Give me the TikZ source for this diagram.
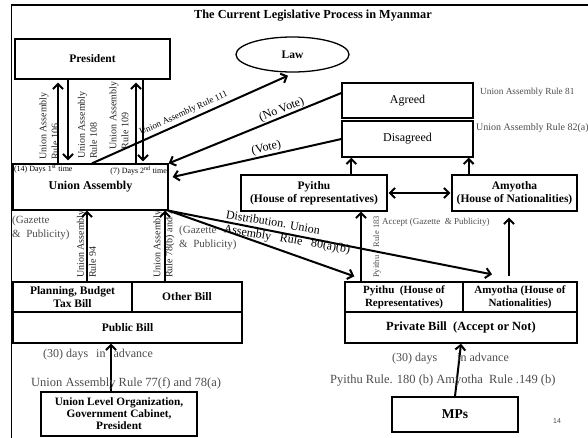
\documentclass[tikz,border=0pt]{standalone}
\usepackage{fontspec}
\setmainfont{Liberation Serif}
\newfontfamily\slidesans{Liberation Sans}
\usetikzlibrary{arrows.meta,shapes.geometric}
\begin{document}
\begin{tikzpicture}[x=1pt,y=-1pt,>={Straight Barb[length=5pt,width=10pt]},
	box/.style={draw,line width=1.3pt,inner sep=1pt,align=center,font=\bfseries\fontsize{11.5}{13.5}\selectfont},
	arr/.style={->,line width=2pt},
	lbl/.style={inner sep=0pt,font=\fontsize{12}{14}\selectfont,text=black!70},
	rlbl/.style={inner sep=0pt,rotate=90,align=left,font=\fontsize{10}{12}\selectfont,text=black!85}]
	\useasboundingbox (0,0) rectangle (588,437);
	\draw[line width=1.5pt] (590,5) -- (11.5,5) -- (11.5,440);
	\node[font=\bfseries\fontsize{12.3}{14}\selectfont] (title) at (313,16) {The Current Legislative Process in Myanmar};
	\node[box,minimum width=155,minimum height=40] (pres) at (92.5,59) {President};
	\node[box,ellipse,minimum width=113,minimum height=35] (law) at (292.5,54.5) {Law};
	\node[box,font=\fontsize{12}{14}\selectfont,minimum width=131,minimum height=35] (agreed) at (407.5,100.5) {Agreed};
	\node[box,font=\fontsize{12}{14}\selectfont,minimum width=131,minimum height=36] (disagreed) at (407.5,139) {Disagreed};
	\node[rlbl] (r106) at (49,126) {Union Assembly\\Rule 106};
	\node[rlbl] (r108) at (87.5,125) {Union Assembly\\Rule 108};
	\node[rlbl] (r109) at (119,115.5) {Union Assembly\\Rule 109};
	\node[rlbl] (r94) at (86.5,244) {Union Assembly\\Rule 94};
	\node[rlbl] (r78) at (164,244) {Union Assembly\\Rule 78(b) and 7};
	\node[box,font=\bfseries\fontsize{12}{14}\selectfont,minimum width=155,minimum height=46] (ua) at (90.5,187) {Union Assembly};
	\node[box,minimum width=146,minimum height=36] (pyHouse) at (314,193) {Pyithu\\(House of representatives)};
	\node[box,minimum width=125,minimum height=36] (amHouse) at (514.5,193) {Amyotha\\(House of Nationalities)};
	\node[box,minimum width=119,minimum height=30] (planning) at (72.5,297) {Planning, Budget\\Tax Bill};
	\node[box,minimum width=110,minimum height=30] (other) at (187,297) {Other Bill};
	\node[box,minimum width=229,minimum height=31] (public) at (127.5,327.5) {Public Bill};
	\node[box,font=\bfseries\fontsize{11.3}{12}\selectfont,minimum width=156,minimum height=44] (ulo) at (119,414) {Union Level Organization,\\Government Cabinet,\\President};
	\node[box,font=\bfseries\fontsize{11}{13}\selectfont,minimum width=118,minimum height=30] (pyPriv) at (404,297) {Pyithu\ \ (House of\\Representatives)};
	\node[box,font=\bfseries\fontsize{11}{13}\selectfont,minimum width=114,minimum height=30] (amPriv) at (520,297) {Amyotha (House of\\Nationalities)};
	\node[box,font=\bfseries\fontsize{12.5}{14}\selectfont,minimum width=232,minimum height=31] (private) at (461,327.5) {Private Bill\ \ (Accept or Not)};
	\node[box,font=\bfseries\fontsize{13.5}{15}\selectfont,minimum width=126,minimum height=35] (mps) at (455,414.5) {MPs};
	\draw[arr,shorten >=3pt] ([xshift=-34.5pt]pres.south |- ua.north) -- ([xshift=-34.5pt]pres.south);
	\draw[arr,shorten >=3pt] ([xshift=-24.5pt]pres.south) -- ([xshift=-24.5pt]pres.south |- ua.north);
	\draw[arr,shorten >=3pt] ([xshift=43.5pt]pres.south |- ua.north) -- ([xshift=43.5pt]pres.south);
	\draw[arr,shorten >=2pt] ([xshift=50.5pt]pres.south) -- ([xshift=50.5pt]pres.south |- ua.north);
	\draw[arr] ([xshift=1.5pt]ua.north) -- node[pos=0.485,sloped,above=3pt,inner sep=0pt,font=\fontsize{9}{10}\selectfont] (r111) {Union Assembly Rule 111} ([xshift=-4.5pt,yshift=-3pt]law.south);
	\draw[arr,<-] (ua.north east) -- node[pos=0.67,sloped,above=0.5pt,inner sep=0pt,font=\fontsize{12}{14}\selectfont] (noVote) {(No Vote)} ([yshift=7.5pt]agreed.west);
	\draw[arr,<-] ([xshift=4pt,yshift=10pt]ua.east) -- node[pos=0.565,sloped,above=1pt,inner sep=0pt,font=\fontsize{12}{14}\selectfont] (vote) {(Vote)} (disagreed.west);
	\draw[arr] (ua.south east) -- ([xshift=10pt,yshift=5pt]pyPriv.north west);
	\draw[arr] (ua.south east) -- ([xshift=-28pt,yshift=7pt]amPriv.north);
	\node[rotate=-9.5,align=left,inner sep=0pt,font=\fontsize{12}{14}\selectfont] (distLbl) at (288,233) {Distribution. Union\\Assembly\ \ \ Rule\ \ \ 80(a)(b)};
	\draw[arr] ([xshift=14.5pt]planning.north) -- ([xshift=14.5pt]planning.north |- ua.south);
	\draw[arr] ([xshift=-22pt]other.north) -- ([xshift=-22pt]other.north |- ua.south);
	\draw[arr] ([xshift=-8pt]ulo.north) -- ([xshift=-8pt]ulo.north |- public.south);
	\draw[arr] (mps.north) -- (private.south);
	\draw[arr] ([xshift=-43pt]pyPriv.north) -- ([xshift=-43pt]pyPriv.north |- pyHouse.south);
	\draw[arr,shorten >=6pt] ([xshift=-11pt,yshift=5pt]amPriv.north) -- ([xshift=-11pt]amPriv.north |- amHouse.south);
	\draw[arr] ([xshift=10pt]disagreed.south west |- pyHouse.north) -- ([xshift=10pt]disagreed.south west);
	\draw[arr] ([xshift=-5pt]disagreed.south east |- amHouse.north) -- ([xshift=-5pt]disagreed.south east);
	\draw[arr,<->,shorten <=1pt,shorten >=1pt] (pyHouse.east) -- (amHouse.west);
	\node[anchor=north west,inner sep=1.5pt,font=\fontsize{8}{9}\selectfont] (days14) at (ua.north west) {(14) Days 1\textsuperscript{st} time};
	\node[anchor=north east,inner sep=1.5pt,font=\fontsize{8}{9}\selectfont] (days7) at ([yshift=-1.5pt]ua.north east) {(7) Days 2\textsuperscript{nd} time};
	\node[lbl,anchor=north west,align=left,font=\fontsize{11}{14}\selectfont] (gazL) at (12,216) {(Gazette\\\&\ \ Publicity)};
	\node[lbl,anchor=north west,align=left,font=\fontsize{11}{14}\selectfont] (gazR) at (179,226) {(Gazette\\\&\ \ Publicity)};
	\node[lbl,anchor=west,font=\fontsize{9.3}{11}\selectfont] (r81) at (480,92) {Union Assembly Rule 81};
	\node[lbl,anchor=west,font=\fontsize{10}{12}\selectfont] (r82) at (476,128) {Union Assembly Rule 82(a)};
	\node[rlbl,font=\fontsize{8.5}{10}\selectfont,text=black!70] (r183) at (377,247) {Pyithu\quad Rule 183};
	\node[lbl,anchor=west,font=\fontsize{9}{11}\selectfont] (accept) at (382,222) {Accept (Gazette\ \ \& Publicity)};
	\node[lbl,anchor=west] (advL) at (43,355) {(30) days\hspace{8pt}in\hspace{8pt}advance};
	\node[lbl,anchor=west,font=\fontsize{12.5}{14}\selectfont] (ruleL) at (31,383) {Union Assembly Rule 77(f) and 78(a)};
	\node[lbl,anchor=west] (advR) at (392,359) {(30) days\hspace{20pt}in advance};
	\node[lbl,anchor=west,font=\fontsize{12.5}{14}\selectfont] (ruleR) at (330,381) {Pyithu Rule. 180 (b) Amyotha\ \ Rule .149 (b)};
	\node[font=\slidesans\fontsize{7}{8}\selectfont,text=black!70] (pgnum) at (557,421) {14};
\end{tikzpicture}
\end{document}
